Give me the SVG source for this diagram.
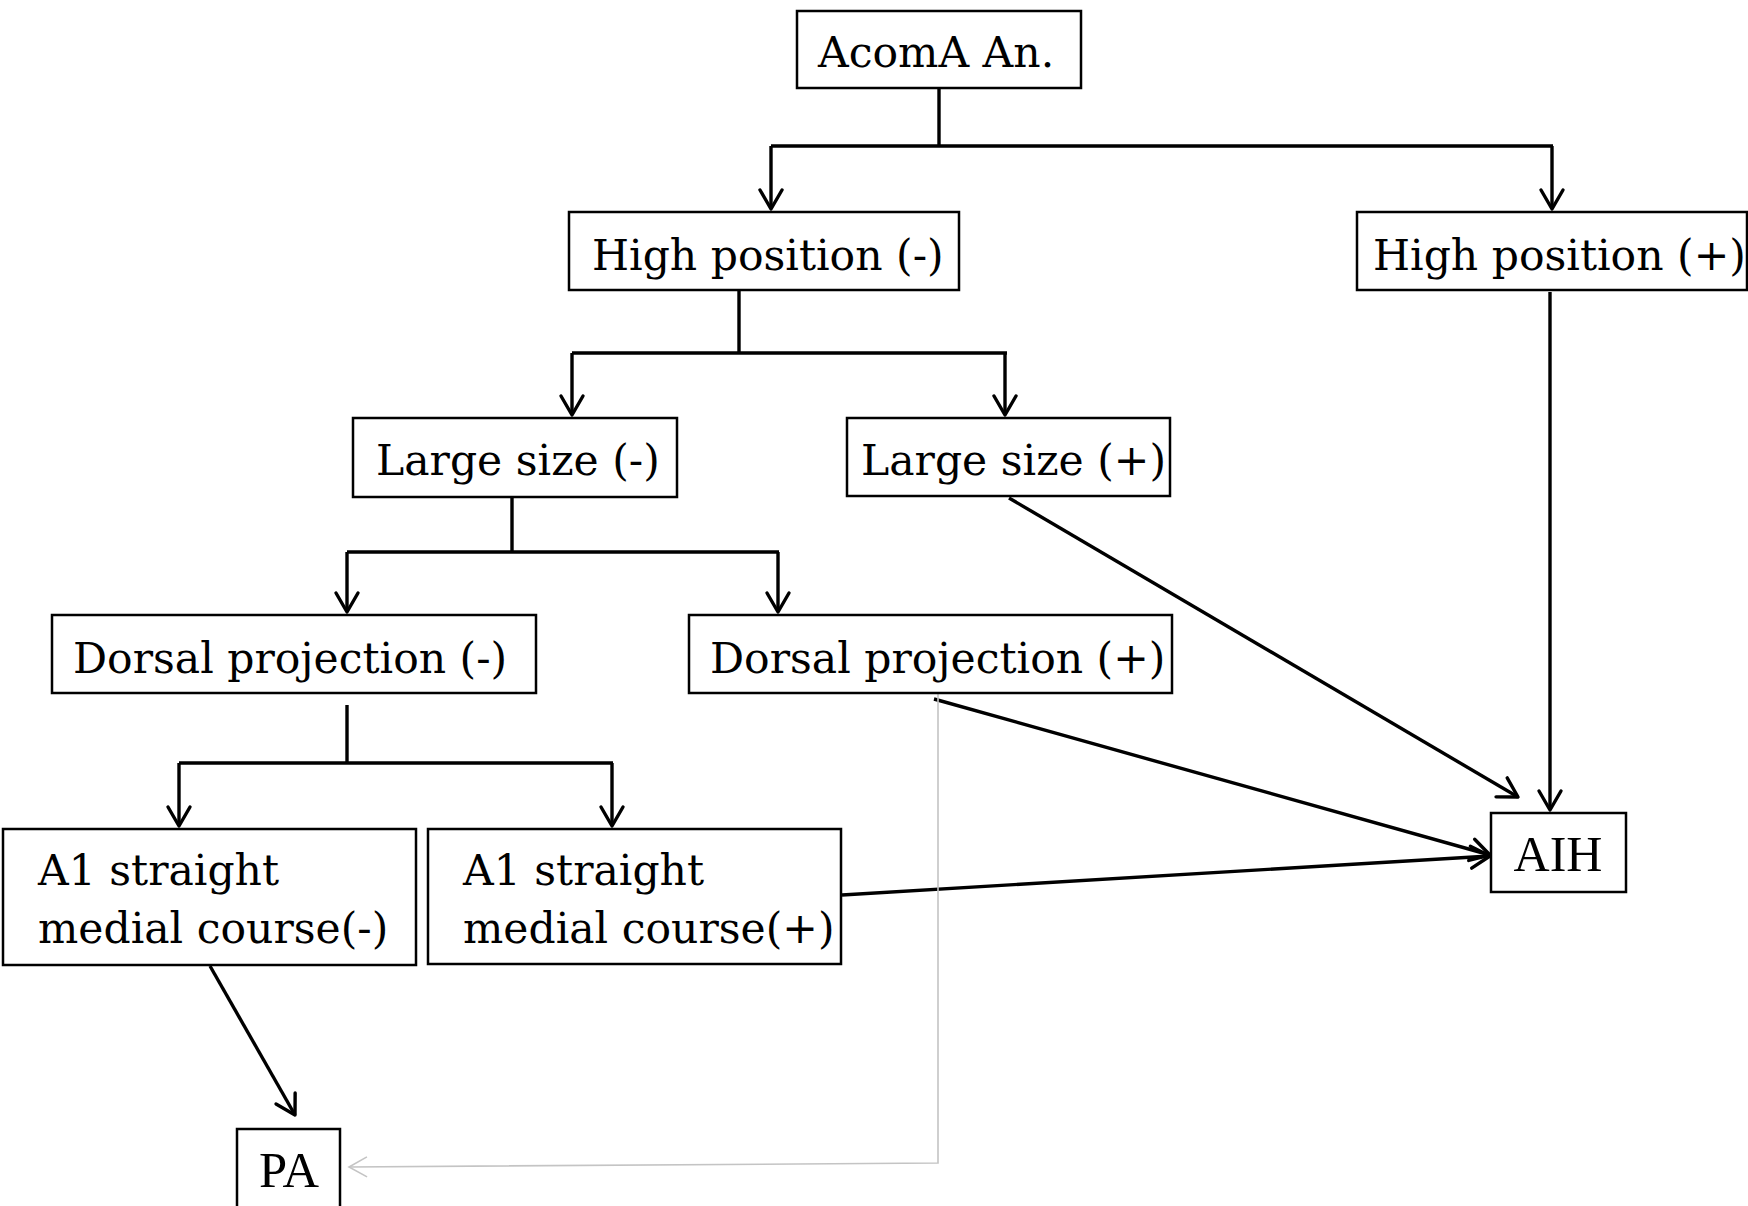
<svg xmlns="http://www.w3.org/2000/svg" width="1748" height="1206" viewBox="0 0 1748 1206">
<style>
.box{fill:#fff;stroke:#000;stroke-width:2.5}
.t{font-family:"DejaVu Serif",serif;font-size:42.5px;fill:#000}
.t2{font-family:"Liberation Serif",serif;font-size:50px;fill:#000}
.c{fill:none;stroke:#000;stroke-width:3.4}
.g{fill:none;stroke:#c4c4c4;stroke-width:1.6}
</style>
<defs>
<marker id="ah" markerUnits="userSpaceOnUse" viewBox="-22 -14 26 28" refX="0" refY="0" markerWidth="26" markerHeight="28" orient="auto">
<path d="M-19,-11 L0,0 L-19,11" fill="none" stroke="#000" stroke-width="3.4" stroke-linecap="round" stroke-linejoin="round"/>
</marker>
<marker id="ahg" markerUnits="userSpaceOnUse" viewBox="-22 -14 26 28" refX="0" refY="0" markerWidth="26" markerHeight="28" orient="auto">
<path d="M-18,-10 L0,0 L-18,10" fill="none" stroke="#c4c4c4" stroke-width="1.6"/>
</marker>
</defs>
<g id="connectors">
<path class="c" d="M939,88 V146 M771,146 H1553"/>
<path class="c" d="M771,146 V209" marker-end="url(#ah)"/>
<path class="c" d="M1552,146 V209" marker-end="url(#ah)"/>
<path class="c" d="M739,290 V353 M572,353 H1007"/>
<path class="c" d="M572,353 V415" marker-end="url(#ah)"/>
<path class="c" d="M1005,353 V415" marker-end="url(#ah)"/>
<path class="c" d="M512,497 V552 M347,552 H779"/>
<path class="c" d="M347,552 V612" marker-end="url(#ah)"/>
<path class="c" d="M778,552 V612" marker-end="url(#ah)"/>
<path class="c" d="M347,705 V763 M179,763 H613"/>
<path class="c" d="M179,763 V826" marker-end="url(#ah)"/>
<path class="c" d="M612,763 V826" marker-end="url(#ah)"/>
<path class="c" d="M1550,292 V810" marker-end="url(#ah)"/>
<path class="c" d="M1009,498 L1518,797" marker-end="url(#ah)"/>
<path class="c" d="M934,699 L1490,855" marker-end="url(#ah)"/>
<path class="c" d="M842,895 L1490,856" marker-end="url(#ah)"/>
<path class="c" d="M210,966 L295,1115" marker-end="url(#ah)"/>
<path class="g" d="M938,693 V1163 L349,1167" marker-end="url(#ahg)"/>
</g>
<g id="acoma"><rect class="box" x="797" y="11" width="284" height="77"/><text class="t" x="818" y="67">AcomA An.</text></g>
<g id="high-neg"><rect class="box" x="569" y="212" width="390" height="78"/><text class="t" x="592" y="270">High position (-)</text></g>
<g id="high-pos"><rect class="box" x="1357" y="212" width="390" height="78"/><text class="t" x="1373" y="270">High position (+)</text></g>
<g id="large-neg"><rect class="box" x="353" y="418" width="324" height="79"/><text class="t" x="376" y="475">Large size (-)</text></g>
<g id="large-pos"><rect class="box" x="847" y="418" width="323" height="78"/><text class="t" x="861" y="475">Large size (+)</text></g>
<g id="dorsal-neg"><rect class="box" x="52" y="615" width="484" height="78"/><text class="t" x="73" y="673">Dorsal projection (-)</text></g>
<g id="dorsal-pos"><rect class="box" x="689" y="615" width="483" height="78"/><text class="t" x="710" y="673">Dorsal projection (+)</text></g>
<g id="a1-neg"><rect class="box" x="3" y="829" width="413" height="136"/><text class="t" x="38" y="885">A1 straight</text><text class="t" x="38" y="943">medial course(-)</text></g>
<g id="a1-pos"><rect class="box" x="428" y="829" width="413" height="135"/><text class="t" x="463" y="885">A1 straight</text><text class="t" x="463" y="943">medial course(+)</text></g>
<g id="aih"><rect class="box" x="1491" y="813" width="135" height="79"/><text class="t2" x="1558" y="871" text-anchor="middle">AIH</text></g>
<g id="pa"><rect class="box" x="237" y="1129" width="103" height="80"/><text class="t2" x="289" y="1187" text-anchor="middle" textLength="60" lengthAdjust="spacingAndGlyphs">PA</text></g>
</svg>
